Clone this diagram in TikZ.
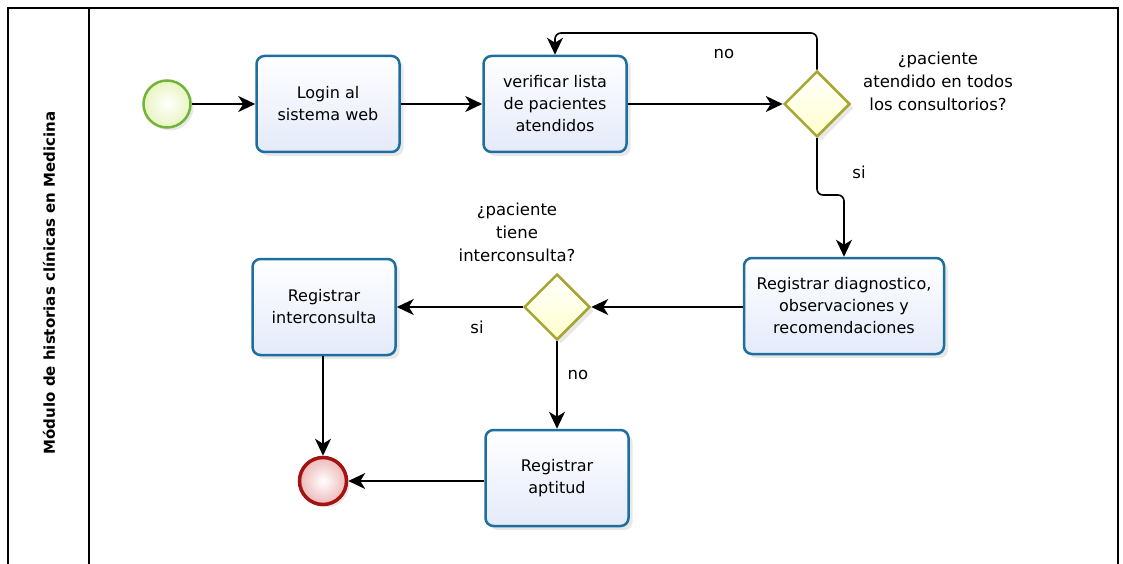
\documentclass[tikz,border=0pt]{standalone}
\usepackage{fontspec}
\setmainfont{DejaVu Sans}
\usetikzlibrary{arrows.meta,shapes.geometric,shadows}
\definecolor{taskborder}{HTML}{1E6E9E}
\definecolor{taskfill}{HTML}{E4EAFA}
\definecolor{startborder}{HTML}{72B33A}
\definecolor{startfill}{HTML}{E8F5C0}
\definecolor{endborder}{HTML}{A41212}
\definecolor{endfill}{HTML}{EEB8B8}
\definecolor{gwborder}{HTML}{A8A632}
\definecolor{gwfill}{HTML}{FFFFCC}
\tikzset{
  txt/.style={font=\fontsize{16}{22}\selectfont, align=center},
  task/.style={txt, draw=taskborder, line width=2.5, rounded corners=8,
    top color=white, bottom color=taskfill,
    drop shadow={shadow xshift=4pt, shadow yshift=-4pt, opacity=0.18},
    minimum width=143, minimum height=96, inner sep=2},
  gateway/.style={diamond, aspect=1, draw=gwborder, line width=2.5,
    top color=white, bottom color=gwfill, inner sep=0,
    minimum width=66, minimum height=66,
    drop shadow={shadow xshift=4pt, shadow yshift=-4pt, opacity=0.18}},
  startev/.style={circle, draw=startborder, line width=2.5,
    inner color=white, outer color=startfill, minimum size=47, inner sep=0,
    drop shadow={shadow xshift=3pt, shadow yshift=-3pt, opacity=0.18}},
  endev/.style={circle, draw=endborder, line width=3.5,
    inner color=white, outer color=endfill, minimum size=47, inner sep=0,
    drop shadow={shadow xshift=3pt, shadow yshift=-3pt, opacity=0.18}},
  flow/.style={draw=black, line width=1.6,
    -{Stealth[length=17pt, width=16pt, inset=5pt]}},
  lbl/.style={font=\fontsize{16.5}{23}\selectfont, align=center},
  frame/.style={draw=black, line width=1.3}
}
\begin{document}
\begin{tikzpicture}[x=1pt,y=-1pt]
\useasboundingbox (0,0) rectangle (1123,564);
% pool frame
\draw[frame] (8,570) -- (8,8) -- (1118,8) -- (1118,570);
\draw[frame] (89,8) -- (89,570);
\node[rotate=90, font=\bfseries\fontsize{15}{18}\selectfont] (lane) at (49,283) {Módulo de historias clínicas en Medicina};

% nodes
\node[startev] (start) at (167,104) {};
\node[task] (login) at (328,104) {Login al\\sistema web};
\node[task] (verif) at (555,104) {verificar lista\\de pacientes\\atendidos};
\node[gateway] (gw1) at (817,104) {};
\node[lbl] (gw1lbl) at (938,81) {¿paciente\\atendido en todos\\los consultorios?};
\node[task, minimum width=200] (rd) at (844,306) {Registrar diagnostico,\\observaciones y\\recomendaciones};
\node[gateway] (gw2) at (557,307) {};
\node[lbl] (gw2lbl) at (517,232) {¿paciente\\tiene\\interconsulta?};
\node[task] (ri) at (324,307) {Registrar\\interconsulta};
\node[task] (ra) at (557,478) {Registrar\\aptitud};
\node[endev] (end) at (323,481) {};

% labels
\node[lbl] (no1) at (724,54) {no};
\node[lbl] (si1) at (859,172) {si};
\node[lbl] (si2) at (477,327) {si};
\node[lbl] (no2) at (578,375) {no};

% helper coordinates
\coordinate (ytop) at (0,33);
\coordinate (ymid) at (0,195);

% connectors
\draw[flow] (start) -- (login);
\draw[flow] (login) -- (verif);
\draw[flow] (verif) -- (gw1);
\draw[flow, rounded corners=6] (gw1.north) -- (gw1.north |- ytop) -- (verif.north |- ytop) -- (verif.north);
\draw[flow, rounded corners=6] (gw1.south) -- (gw1.south |- ymid) -- (rd.north |- ymid) -- (rd.north);
\draw[flow] (rd.west |- gw2) -- (gw2.east);
\draw[flow] (gw2.west) -- (ri.east |- gw2);
\draw[flow] (gw2.south) -- (ra.north);
\draw[flow] (ri.south -| end) -- (end.north);
\draw[flow] (ra.west |- end) -- (end.east);
\end{tikzpicture}
\end{document}
